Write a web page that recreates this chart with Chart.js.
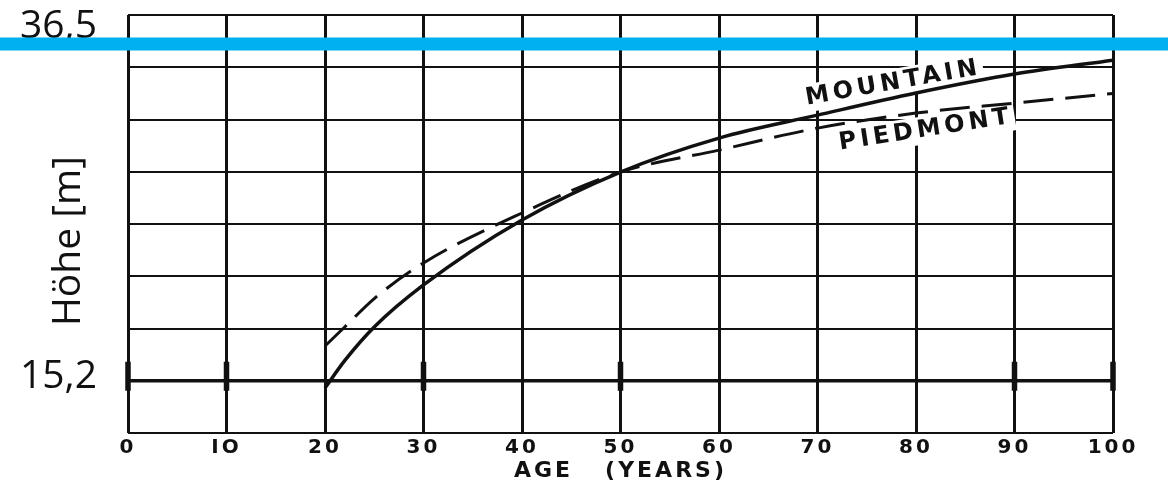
<!DOCTYPE html>
<html>
<head>
<meta charset="utf-8">
<title>Height over age</title>
<script src="https://cdn.jsdelivr.net/npm/chart.js@4/dist/chart.umd.min.js"></script>
<style>
  html, body { margin: 0; padding: 0; background: #fff; }
  canvas { display: block; }
</style>
</head>
<body>
<canvas id="chart" width="1168" height="484"></canvas>
<script>
// Stand age (years) at which the curves were read
const ages = [20, 22, 25, 30, 40, 50, 60, 70, 80, 90, 100];
// Height (m) over age, mountain sites (solid curve)
const mountainHeights = [14.74, 16.47, 18.6, 21.26, 25.37, 28.4, 30.55, 32.0, 33.4, 34.6, 35.48];
// Height (m) over age, piedmont sites (dashed curve)
const piedmontHeights = [17.4, 18.6, 20.4, 22.65, 25.81, 28.4, 29.79, 31.18, 32.13, 32.76, 33.37];
// Age axis labels, 0 to 100 by 10
const ageTickLabels = ['0', 'IO', '20', '30', '40', '50', '60', '70', '80', '90', '100'];
// Marked heights on the left edge
const markedHeights = [15.2, 36.5];
const markedHeightLabels = ['15,2', '36,5'];
// Ages where the base line carries a heavy tick
const baseTickAges = [0, 10, 30, 50, 90, 100];
// Curve names
const seriesNames = ['MOUNTAIN', 'PIEDMONT'];

// Height grid: one line every GRID_STEP metres, base line at 15,2 m
const GRID_STEP = 3.305;
const Y_MIN = markedHeights[0] - GRID_STEP;
const Y_MAX = markedHeights[0] + 7 * GRID_STEP;

const INK = '#111';

const decor = {
  id: 'decor',
  beforeDraw(chart, args, opts) {
    // wide lettering for the age axis
    chart.ctx.letterSpacing = opts.axisSpacing;
  },
  beforeDatasetsDraw(chart, args, opts) {
    const ctx = chart.ctx;
    const { x, y } = chart.scales;
    ctx.letterSpacing = '0px';
    ctx.save();
    // heavy ticks on the base line
    const yb = y.getPixelForValue(markedHeights[0]);
    ctx.strokeStyle = INK;
    ctx.lineWidth = 5.5;
    baseTickAges.forEach(a => {
      const px = x.getPixelForValue(a);
      ctx.beginPath();
      ctx.moveTo(px, yb - 19);
      ctx.lineTo(px, yb + 10);
      ctx.stroke();
    });
    // clear the grid under the curve names
    ctx.font = opts.labelFont;
    ctx.letterSpacing = opts.labelSpacing;
    opts.labels.forEach((l, i) => {
      const w = ctx.measureText(seriesNames[i]).width;
      ctx.save();
      ctx.translate(x.getPixelForValue(l.age), y.getPixelForValue(l.height));
      ctx.rotate(l.angle * Math.PI / 180);
      ctx.fillStyle = '#fff';
      ctx.fillRect(-w / 2 - 4, -14, w + 6, 28);
      ctx.restore();
    });
    ctx.restore();
    ctx.letterSpacing = '0px';
  },
  afterDatasetsDraw(chart, args, opts) {
    const ctx = chart.ctx;
    const { x, y } = chart.scales;
    ctx.save();
    ctx.font = opts.labelFont;
    ctx.letterSpacing = opts.labelSpacing;
    ctx.fillStyle = INK;
    ctx.textAlign = 'center';
    ctx.textBaseline = 'middle';
    opts.labels.forEach((l, i) => {
      ctx.save();
      ctx.translate(x.getPixelForValue(l.age), y.getPixelForValue(l.height));
      ctx.rotate(l.angle * Math.PI / 180);
      ctx.fillText(seriesNames[i], 0, 0);
      ctx.restore();
    });
    ctx.restore();
    ctx.letterSpacing = '0px';
  },
  afterDraw(chart, args, opts) {
    const ctx = chart.ctx;
    const { y } = chart.scales;
    ctx.save();
    ctx.letterSpacing = '0px';
    ctx.fillStyle = INK;
    ctx.font = opts.noteFont;
    // axis name, reading upwards
    ctx.save();
    ctx.translate(opts.axisName.x, opts.axisName.y);
    ctx.rotate(-Math.PI / 2);
    ctx.textAlign = 'center';
    ctx.textBaseline = 'alphabetic';
    ctx.fillText(opts.axisName.text, 0, 0);
    ctx.restore();
    // marked heights
    ctx.textAlign = 'right';
    ctx.textBaseline = 'alphabetic';
    markedHeights.forEach((h, i) => {
      ctx.fillText(markedHeightLabels[i], opts.noteRight, y.getPixelForValue(h) + opts.noteShift[i]);
    });
    // reference line at the upper marked height, across the whole figure
    const yl = y.getPixelForValue(markedHeights[1]);
    ctx.strokeStyle = opts.lineColor;
    ctx.lineWidth = 13;
    ctx.beginPath();
    ctx.moveTo(0, yl);
    ctx.lineTo(chart.width, yl);
    ctx.stroke();
    ctx.restore();
  }
};

new Chart(document.getElementById('chart'), {
  type: 'line',
  data: {
    datasets: [
      {
        label: seriesNames[0],
        data: ages.map((a, i) => ({ x: a, y: mountainHeights[i] })),
        borderColor: INK,
        borderWidth: 3.5,
        pointRadius: 0,
        fill: false,
        cubicInterpolationMode: 'monotone'
      },
      {
        label: seriesNames[1],
        data: ages.map((a, i) => ({ x: a, y: piedmontHeights[i] })),
        borderColor: INK,
        borderWidth: 3,
        borderDash: [30, 12],
        pointRadius: 0,
        fill: false,
        cubicInterpolationMode: 'monotone'
      }
    ]
  },
  options: {
    responsive: false,
    animation: false,
    devicePixelRatio: 1,
    layout: { padding: { top: 15, right: 55, left: 0, bottom: 0 } },
    scales: {
      x: {
        type: 'linear',
        min: 0,
        max: 100,
        afterFit(s) { s.height = 51; },
        ticks: {
          stepSize: 10,
          autoSkip: false,
          maxRotation: 0,
          padding: 3,
          color: INK,
          font: { family: 'DejaVu Sans', weight: 'bold', size: 20 },
          callback: (v, i) => ageTickLabels[i]
        },
        grid: { drawTicks: false, color: INK, lineWidth: 3 },
        border: { display: false },
        title: {
          display: true,
          text: 'AGE   (YEARS)',
          color: INK,
          font: { family: 'DejaVu Sans', weight: 'bold', size: 22 },
          padding: { top: 0, bottom: 0 }
        }
      },
      y: {
        type: 'linear',
        min: Y_MIN,
        max: Y_MAX,
        afterFit(s) { s.width = 128; },
        afterBuildTicks(s) {
          s.ticks = [];
          for (let k = 0; k <= 8; k++) s.ticks.push({ value: Y_MIN + k * GRID_STEP });
        },
        ticks: { display: false },
        grid: {
          drawTicks: false,
          color: INK,
          lineWidth: c => (c.index === 1 ? 3.5 : 2)
        },
        border: { display: false }
      }
    },
    plugins: {
      legend: { display: false },
      tooltip: { enabled: false },
      decor: {
        axisSpacing: '3px',
        labelFont: 'bold 24px "DejaVu Sans"',
        labelSpacing: '4px',
        labels: [
          { age: 77.7, height: 34.03, angle: -10 },
          { age: 81.0, height: 31.06, angle: -8.8 }
        ],
        noteFont: '39px "Open Sans"',
        noteRight: 97,
        noteShift: [7, -6],
        axisName: { text: 'Höhe [m]', x: 80, y: 241 },
        lineColor: '#00b0f0'
      }
    }
  },
  plugins: [decor]
});
</script>
</body>
</html>
